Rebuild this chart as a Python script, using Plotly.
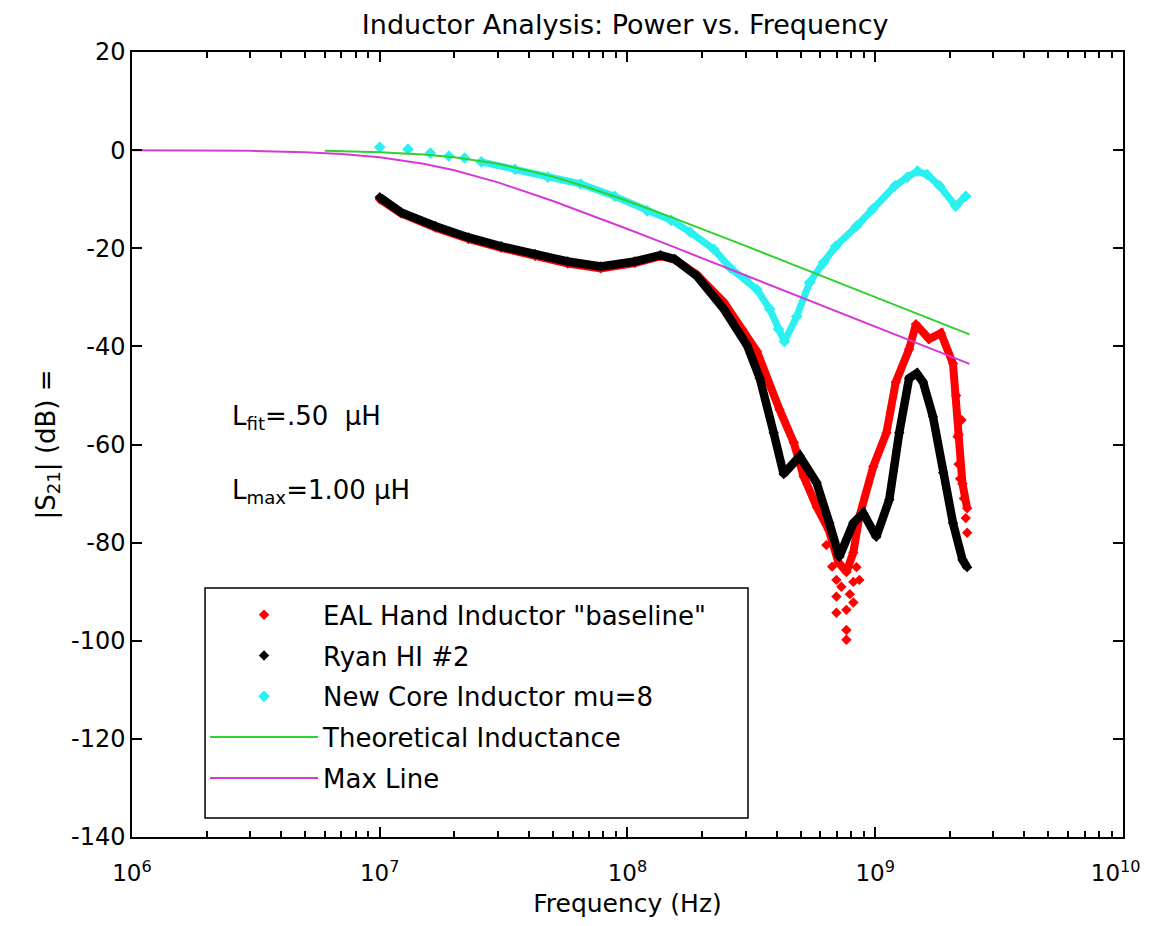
import plotly.graph_objects as go

# ---- data ----
freq_red = [1.0e7, 1.22e7, 1.68e7, 2.28e7, 3.09e7, 4.24e7, 5.74e7, 7.8e7, 1.07e8, 1.36e8,
            1.55e8, 1.91e8, 2.45e8, 2.9e8, 3.33e8, 4.11e8, 4.69e8, 5.14e8, 5.8e8, 6.48e8,
            7.1e8, 7.65e8, 8.16e8, 8.63e8, 9.82e8, 1.11e9, 1.21e9, 1.37e9, 1.46e9, 1.65e9,
            1.84e9, 2.06e9, 2.17e9, 2.25e9, 2.35e9]
db_red = [-10.0, -12.9, -15.8, -18.1, -19.9, -21.6, -23.1, -24.1, -23.0, -21.6,
          -22.3, -25.4, -31.0, -36.5, -41.0, -52.9, -59.6, -66.5, -72.7, -77.3,
          -84.0, -86.0, -82.0, -74.7, -64.5, -57.6, -47.3, -40.6, -35.5, -38.5,
          -37.3, -43.5, -58.0, -68.0, -73.0]

red_scatter_freq = [6.35e8, 6.7e8, 6.97e8, 6.97e8, 6.97e8, 7.3e8, 7.65e8, 7.65e8, 7.65e8, 7.9e8,
                    8.16e8, 8.16e8, 8.4e8, 8.63e8, 2.12e9, 2.15e9, 2.17e9, 2.2e9, 2.23e9, 2.28e9,
                    2.32e9, 2.35e9]
red_scatter_db = [-80.5, -84.9, -87.6, -91.0, -94.3, -89.0, -93.7, -97.8, -99.8, -90.5,
                  -88.0, -92.2, -85.0, -87.6, -50.0, -58.4, -64.0, -67.0, -55.0, -71.0,
                  -75.0, -78.0]

freq_black = [1.0e7, 1.22e7, 1.68e7, 2.28e7, 3.09e7, 4.24e7, 5.74e7, 7.8e7, 1.07e8, 1.36e8,
              1.55e8, 1.91e8, 2.45e8, 3.04e8, 3.42e8, 3.89e8, 4.27e8, 4.96e8, 5.8e8, 6.53e8,
              7.16e8, 8.16e8, 8.95e8, 1.01e9, 1.14e9, 1.25e9, 1.37e9, 1.47e9, 1.56e9, 1.71e9,
              1.88e9, 2.06e9, 2.25e9, 2.35e9]
db_black = [-9.6, -12.7, -15.5, -17.8, -19.6, -21.2, -22.7, -23.7, -22.7, -21.4,
            -22.2, -25.7, -32.4, -39.8, -46.5, -57.6, -66.0, -62.4, -67.8, -76.0,
            -82.9, -76.0, -74.0, -78.8, -71.2, -57.6, -46.5, -45.5, -47.3, -54.3,
            -65.7, -76.0, -83.5, -85.0]

freq_cyan = [1.0e7, 1.3e7, 1.6e7, 1.9e7, 2.2e7, 2.57e7, 3.52e7, 4.77e7, 6.47e7, 8.87e7,
             1.2e8, 1.5e8, 1.79e8, 2.23e8, 2.6e8, 3.0e8, 3.33e8, 3.75e8, 4.07e8, 4.3e8,
             4.82e8, 5.43e8, 6.18e8, 6.92e8, 8.4e8, 9.77e8, 1.2e9, 1.35e9, 1.48e9, 1.62e9,
             1.82e9, 2.11e9, 2.32e9]
db_cyan = [0.6, 0.2, -0.6, -1.2, -1.6, -2.4, -3.9, -5.5, -6.9, -9.4,
           -12.4, -14.3, -16.7, -20.2, -24.0, -26.3, -28.4, -32.4, -36.5, -39.0,
           -33.9, -27.0, -22.9, -19.6, -15.5, -12.0, -7.3, -5.5, -4.3, -5.0,
           -7.3, -11.4, -9.4]

freq_theory = [6e6, 1e7, 1.5e7, 2e7, 3e7, 5e7, 7e7, 1e8, 1.5e8, 2e8, 3e8, 5e8, 7e8,
               1e9, 1.5e9, 2e9, 2.4e9]
db_theory = [-0.15, -0.41, -0.87, -1.44, -2.76, -5.40, -7.66, -10.36, -13.66, -16.07,
             -19.53, -23.94, -26.85, -29.95, -33.47, -35.97, -37.55]

freq_max = [1e6, 2e6, 3e6, 5e6, 7e6, 1e7, 1.5e7, 2e7, 3e7, 5e7, 7e7, 1e8, 1.5e8, 2e8,
            3e8, 5e8, 7e8, 1e9, 1.5e9, 2e9, 2.4e9]
db_max = [-0.02, -0.07, -0.15, -0.41, -0.77, -1.44, -2.76, -4.11, -6.58, -10.36, -13.08,
          -16.07, -19.53, -22.01, -25.52, -29.95, -32.87, -35.97, -39.49, -41.98, -43.57]

names = ['EAL Hand Inductor "baseline"', 'Ryan HI #2', 'New Core Inductor mu=8',
         'Theoretical Inductance', 'Max Line']
y_ticks = [20, 0, -20, -40, -60, -80, -100, -120, -140]
y_tick_text = ["20", "0", "-20", "-40", "-60", "-80", "-100", "-120", "-140"]
x_ticks = [1e6, 1e7, 1e8, 1e9, 1e10]
x_tick_text = ["10<sup>6</sup>", "10<sup>7</sup>", "10<sup>8</sup>", "10<sup>9</sup>",
               "10<sup>10</sup>\u00a0\u00a0"]

FONT = "DejaVu Sans"
RED, BLACK, CYAN, GREEN, MAGENTA = "#ff0000", "#000000", "#2af0f0", "#2ed12e", "#d63ad6"

fig = go.Figure()

# red series
fig.add_trace(go.Scatter(x=freq_red, y=db_red, mode="lines", line=dict(color=RED, width=8),
                         showlegend=False, legendgroup="a", hoverinfo="skip"))
fig.add_trace(go.Scatter(x=freq_red + red_scatter_freq, y=db_red + red_scatter_db, mode="markers",
                         marker=dict(symbol="diamond", size=8, color=RED),
                         name=names[0], legendgroup="a"))
# black series
fig.add_trace(go.Scatter(x=freq_black, y=db_black, mode="lines", line=dict(color=BLACK, width=8.5),
                         showlegend=False, legendgroup="b", hoverinfo="skip"))
fig.add_trace(go.Scatter(x=freq_black, y=db_black, mode="markers",
                         marker=dict(symbol="diamond", size=8, color=BLACK),
                         name=names[1], legendgroup="b"))
# cyan series
fig.add_trace(go.Scatter(x=freq_cyan[5:], y=db_cyan[5:], mode="lines", line=dict(color=CYAN, width=7),
                         showlegend=False, legendgroup="c", hoverinfo="skip"))
fig.add_trace(go.Scatter(x=freq_cyan, y=db_cyan, mode="markers",
                         marker=dict(symbol="diamond", size=9, color=CYAN),
                         name=names[2], legendgroup="c"))
# theoretical and max lines
fig.add_trace(go.Scatter(x=freq_theory, y=db_theory, mode="lines", line=dict(color=GREEN, width=2),
                         name=names[3], legendgroup="d"))
fig.add_trace(go.Scatter(x=freq_max, y=db_max, mode="lines", line=dict(color=MAGENTA, width=2),
                         name=names[4], legendgroup="e"))

fig.add_annotation(x=6.394, y=-54.5, xref="x", yref="y", text="L<sub>fit</sub>=.50  µH",
                   showarrow=False, xanchor="left", yanchor="middle",
                   font=dict(family=FONT, size=26, color="black"))
fig.add_annotation(x=6.394, y=-69.6, xref="x", yref="y", text="L<sub>max</sub>=1.00 µH",
                   showarrow=False, xanchor="left", yanchor="middle",
                   font=dict(family=FONT, size=26, color="black"))

# opaque legend box (wider than plotly's auto-sized legend)
fig.add_shape(type="rect", xref="paper", yref="paper", x0=0.0737, x1=0.6216, y0=0.0242, y1=0.3172,
              line=dict(color="black", width=1.5), fillcolor="white", layer="above")

# page body has an 8px margin: figure is sized/offset to compensate
fig.update_layout(
    width=1143, height=910,
    margin=dict(l=124, r=28, t=44, b=81),
    paper_bgcolor="white", plot_bgcolor="white",
    font=dict(family=FONT, size=25, color="black"),
    title=dict(text="Inductor Analysis: Power vs. Frequency", x=0.540, xanchor="center",
               y=0.982, yanchor="middle", font=dict(family=FONT, size=27, color="black")),
    legend=dict(x=0.0737, y=0.313, xanchor="left", yanchor="top", bgcolor="rgba(0,0,0,0)",
                borderwidth=0, font=dict(family=FONT, size=26),
                tracegroupgap=4, itemwidth=108),
    showlegend=True,
)
fig.update_xaxes(type="log", range=[6, 10.0001], tickvals=x_ticks, ticktext=x_tick_text,
                 ticklabeloverflow="allow", ticklabelstandoff=15,
                 showgrid=False, zeroline=False, showline=True, linecolor="black", linewidth=1.5,
                 mirror="ticks", ticks="inside", ticklen=10, tickcolor="black", tickwidth=1.5,
                 minor=dict(ticks="inside", ticklen=6, tickcolor="black", tickwidth=1.5,
                            dtick="D1", showgrid=False),
                 title=dict(text="Frequency (Hz)", font=dict(family=FONT, size=25), standoff=24),
                 tickfont=dict(family=FONT, size=23), automargin=False)
fig.update_yaxes(range=[-140, 20], tickvals=y_ticks, ticktext=y_tick_text, showgrid=False,
                 zeroline=False, showline=True, linecolor="black", linewidth=1.5, mirror="ticks",
                 ticks="inside", ticklen=10, tickcolor="black", tickwidth=1.5,
                 title=dict(text="|S<sub>21</sub>| (dB) =", font=dict(family=FONT, size=26), standoff=8),
                 tickfont=dict(family=FONT, size=24), automargin=False)

fig.write_html("out.html")
